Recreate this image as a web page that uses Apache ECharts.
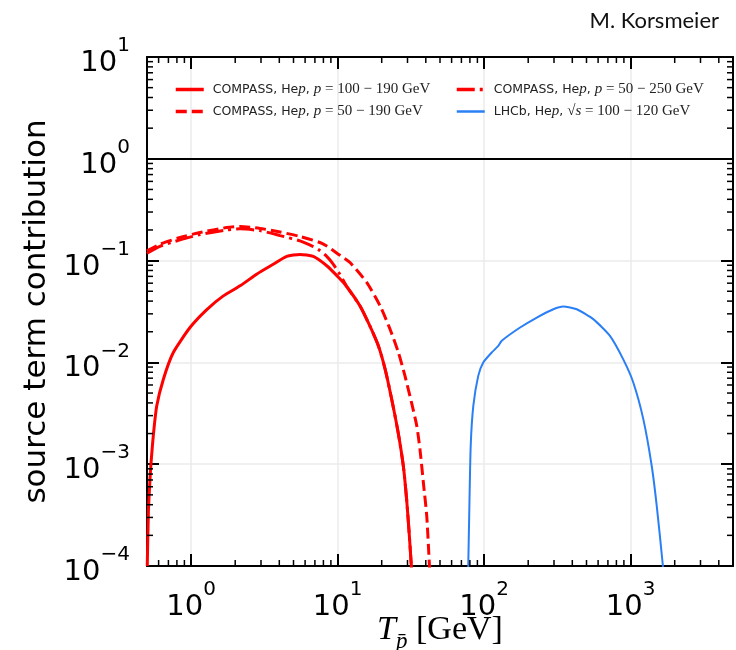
<!DOCTYPE html>
<html><head><meta charset="utf-8">
<script src="https://cdn.jsdelivr.net/npm/echarts@6/dist/echarts.min.js"></script>
<style>html,body{margin:0;padding:0;background:#fff}#c{width:736px;height:650px}</style>
</head><body><div id="c"></div>
<script>
// axis ranges
const xMin = 0.5, xMax = 5000, yMin = 1e-4, yMax = 10;

// COMPASS, Hep, p = 100-190 GeV (solid)
const s1T = [0.502, 0.511, 0.524, 0.532, 0.552, 0.582, 0.646, 0.756, 0.983, 1.28, 1.66, 2.16, 2.8, 3.64, 4.49, 5.54, 6.82, 8.43, 10.4, 11.5, 14.2, 16.6, 19.0, 21.1, 23.4, 25.9, 28.1, 29.6, 30.8, 31.8, 32.2];
const s1V = [1e-4, 3.4e-4, 7.1e-4, 1.0e-3, 1.9e-3, 3.7e-3, 6.8e-3, 1.25e-2, 2.2e-2, 3.3e-2, 4.5e-2, 5.65e-2, 7.35e-2, 9.2e-2, 0.11, 0.115, 0.11, 0.089, 0.066, 0.056, 0.036, 0.0228, 0.0145, 8.6e-3, 4.35e-3, 2.05e-3, 9.6e-4, 4.5e-4, 2.1e-4, 1.05e-4, 8e-5];

// COMPASS, Hep, p = 50-190 GeV (dashed)
const s2T = [0.5, 0.613, 0.84, 1.15, 1.75, 2.16, 2.95, 4.05, 5.54, 7.58, 8.43, 10.0, 12.15, 15.8, 19.5, 22.8, 26.0, 28.8, 32.0, 34.7, 36.5, 38.5, 40.6, 42.3, 42.6];
const s2V = [0.1245, 0.145, 0.1686, 0.189, 0.211, 0.216, 0.207, 0.191, 0.1725, 0.1507, 0.139, 0.117, 0.0958, 0.061, 0.0359, 0.0212, 0.0125, 7.4e-3, 4.0e-3, 2.38e-3, 1.4e-3, 6.6e-4, 3.1e-4, 1.04e-4, 8e-5];

// COMPASS, Hep, p = 50-250 GeV (dash-dot)
const s3T = [0.5, 0.613, 0.84, 1.15, 1.75, 2.16, 2.95, 4.05, 5.54, 6.82, 7.6, 8.43, 9.3, 10.2, 11.0, 11.5, 14.2, 16.6, 19.0, 21.1, 23.4, 25.9, 28.1, 29.6, 30.8, 31.8, 32.2];
const s3V = [0.118, 0.138, 0.16, 0.18, 0.2, 0.205, 0.197, 0.176, 0.156, 0.137, 0.125, 0.11, 0.093, 0.076, 0.063, 0.056, 0.036, 0.0228, 0.0145, 8.6e-3, 4.35e-3, 2.05e-3, 9.6e-4, 4.5e-4, 2.1e-4, 1.05e-4, 8e-5];

// LHCb, Hep, sqrt(s) = 100-120 GeV
const s4T = [77.8, 78.0, 79.2, 81.0, 84.4, 91.2, 98.7, 112.7, 125, 132, 176, 229, 297, 347, 429, 556, 723, 891, 1043, 1221, 1394, 1508, 1657, 1670];
const s4V = [8e-5, 1.04e-4, 3.36e-4, 1.51e-3, 3.74e-3, 7.37e-3, 9.98e-3, 1.25e-2, 1.45e-2, 1.63e-2, 2.2e-2, 2.76e-2, 3.33e-2, 3.54e-2, 3.33e-2, 2.66e-2, 1.82e-2, 1.07e-2, 6.35e-3, 2.77e-3, 9.6e-4, 3.9e-4, 1.04e-4, 8e-5];

const seriesNames = ['COMPASS, Hep, p = 100 − 190 GeV', 'COMPASS, Hep, p = 50 − 190 GeV', 'COMPASS, Hep, p = 50 − 250 GeV', 'LHCb, Hep, √s = 100 − 120 GeV'];
const legendRich = [
  '{f|COMPASS, He}{i|p}{s|, }{i|p}{r| = 100 − 190 GeV}',
  '{f|COMPASS, He}{i|p}{s|, }{i|p}{r| = 50 − 190 GeV}',
  '{f|COMPASS, He}{i|p}{s|, }{i|p}{r| = 50 − 250 GeV}',
  '{f|LHCb, He}{i|p}{s|, }{r|√}{i|s}{r| = 100 − 120 GeV}'
];
const titleText = 'M. Korsmeier';
const yName = 'source term contribution';

const zip = (a, b) => a.map((v, i) => [v, b[i]]);

function isPow(v) { const e = Math.log10(v); return Math.abs(e - Math.round(e)) < 1e-6; }
function powLabel(v) {
  if (!isPow(v)) return '';
  const r = Math.round(Math.log10(v));
  return '{b|10}{e|' + (r < 0 ? '\u2212' + (-r) : r) + '}';
}
const labelRich = {
  b: { fontFamily: 'DejaVu Sans', fontSize: 29, color: '#000', lineHeight: 42, verticalAlign: 'bottom' },
  e: { fontFamily: 'DejaVu Sans', fontSize: 20, color: '#000', lineHeight: 20, verticalAlign: 'top' }
};

// minor tick values
const minorData = [];
for (let k = -1; k <= 3; k++) for (let m = 2; m <= 9; m++) { const v = m * Math.pow(10, k); if (v > xMin * 1.0001 && v < xMax * 0.9999) minorData.push([v, 1, 0]); }
for (let k = -4; k <= 0; k++) for (let m = 2; m <= 9; m++) { const v = m * Math.pow(10, k); if (v > yMin && v < yMax) minorData.push([1, v, 1]); }

const chart = echarts.init(document.getElementById('c'), null, { renderer: 'canvas' });
const axisCommon = { type: 'log', logBase: 10 };
const frameLine = { show: true, onZero: false, lineStyle: { color: '#000', width: 2 } };
const majorTick = { show: true, inside: true, length: 12, lineStyle: { color: '#000', width: 2 } };

const legendCommon = {
  orient: 'vertical', itemWidth: 28, itemHeight: 14, itemGap: 7, padding: 0,
  itemStyle: { opacity: 0 },
  formatter: n => legendRich[seriesNames.indexOf(n)],
  textStyle: { rich: {
    f: { fontFamily: 'DejaVu Sans', fontSize: 12.5, color: '#222', padding: [0, 0, 0, 4] },
    s: { fontFamily: 'DejaVu Sans', fontSize: 12.5, color: '#222' },
    i: { fontFamily: 'Liberation Serif', fontStyle: 'italic', fontSize: 15, color: '#222' },
    r: { fontFamily: 'Liberation Serif', fontSize: 15, color: '#222' }
  } }
};
const redLeg = { width: 3.5 };
const blueLeg = { width: 2.5 };

chart.setOption({
  animation: false,
  backgroundColor: '#fff',
  title: { text: titleText, right: 17, top: 10, padding: 0, textStyle: { fontFamily: 'Lato', fontSize: 22, fontWeight: 'normal', color: '#111' } },
  grid: { left: 147, right: 3, top: 57, bottom: 84, containLabel: false, outerBoundsMode: 'none' },
  legend: [
    Object.assign({}, legendCommon, { left: 174, top: 82, data: [
      { name: seriesNames[0], lineStyle: redLeg }, { name: seriesNames[1], lineStyle: redLeg }] }),
    Object.assign({}, legendCommon, { left: 455, top: 82, data: [
      { name: seriesNames[2], lineStyle: redLeg }, { name: seriesNames[3], lineStyle: blueLeg }] })
  ],
  xAxis: [
    Object.assign({}, axisCommon, {
      min: xMin, max: xMax, position: 'bottom',
      axisLine: frameLine, axisTick: majorTick,
      axisLabel: { margin: 14, formatter: powLabel, rich: labelRich },
      splitLine: { show: true, lineStyle: { color: '#ebebeb', width: 1.5 } },
      name: '{t|T}{sub|p\u0304}{g| [GeV]}', nameLocation: 'middle', nameGap: 47, nameMoveOverlap: false,
      nameTextStyle: { rich: {
        t: { fontFamily: 'Liberation Serif', fontStyle: 'italic', fontSize: 34, color: '#000', lineHeight: 40, verticalAlign: 'top' },
        sub: { fontFamily: 'Liberation Serif', fontStyle: 'italic', fontSize: 23, color: '#000', lineHeight: 26, verticalAlign: 'bottom' },
        g: { fontFamily: 'Liberation Serif', fontSize: 34, color: '#000', lineHeight: 40, verticalAlign: 'top' }
      } }
    }),
    Object.assign({}, axisCommon, {
      min: xMin, max: xMax, position: 'top',
      axisLine: frameLine, axisTick: majorTick, axisLabel: { show: false }, splitLine: { show: false }
    })
  ],
  yAxis: [
    Object.assign({}, axisCommon, {
      min: yMin, max: yMax, position: 'left',
      axisLine: frameLine, axisTick: majorTick,
      axisLabel: { margin: 17, formatter: powLabel, rich: labelRich },
      splitLine: { show: true, lineStyle: { color: '#ebebeb', width: 1.5 } },
      name: yName, nameLocation: 'middle', nameGap: 91,
      nameTextStyle: { fontFamily: 'DejaVu Sans', fontSize: 31, color: '#000' }
    }),
    Object.assign({}, axisCommon, {
      min: yMin, max: yMax, position: 'right',
      axisLine: frameLine, axisTick: majorTick, axisLabel: { show: false }, splitLine: { show: false }
    })
  ],
  series: [
    { name: seriesNames[0], type: 'line', data: zip(s1T, s1V), showSymbol: false, smooth: 0.2, clip: true,
      lineStyle: { color: '#ff0000', width: 3 }, itemStyle: { color: '#ff0000' }, z: 5,
      markLine: { silent: true, symbol: ['none', 'none'], label: { show: false },
        lineStyle: { color: '#000', width: 2, type: 'solid' }, data: [{ yAxis: 1 }] } },
    { name: seriesNames[1], type: 'line', data: zip(s2T, s2V), showSymbol: false, smooth: 0.2, clip: true,
      lineStyle: { color: '#ff0000', width: 3, type: [11, 5] }, itemStyle: { color: '#ff0000' }, z: 5 },
    { name: seriesNames[2], type: 'line', data: zip(s3T, s3V), showSymbol: false, smooth: 0.2, clip: true,
      lineStyle: { color: '#ff0000', width: 3, type: [18, 5, 3, 5] }, itemStyle: { color: '#ff0000' }, z: 5 },
    { name: seriesNames[3], type: 'line', data: zip(s4T, s4V), showSymbol: false, smooth: 0.2, clip: true,
      lineStyle: { color: '#2a7ff5', width: 2 }, itemStyle: { color: '#2a7ff5' }, z: 5 },
    { type: 'custom', coordinateSystem: 'cartesian2d', xAxisIndex: 0, yAxisIndex: 0, silent: true, z: 10,
      data: minorData,
      renderItem: function (params, api) {
        const cs = params.coordSys;
        const st = { stroke: '#000', lineWidth: 1.5 };
        const p = api.coord([api.value(0), api.value(1)]);
        if (api.value(2) === 0) {
          const x = p[0], yb = cs.y + cs.height, yt = cs.y;
          return { type: 'group', children: [
            { type: 'line', shape: { x1: x, y1: yb, x2: x, y2: yb - 6 }, style: st },
            { type: 'line', shape: { x1: x, y1: yt, x2: x, y2: yt + 6 }, style: st } ] };
        } else {
          const y = p[1], xl = cs.x, xr = cs.x + cs.width;
          return { type: 'group', children: [
            { type: 'line', shape: { x1: xl, y1: y, x2: xl + 6, y2: y }, style: st },
            { type: 'line', shape: { x1: xr, y1: y, x2: xr - 6, y2: y }, style: st } ] };
        }
      }
    }
  ]
});
</script>
</body></html>
